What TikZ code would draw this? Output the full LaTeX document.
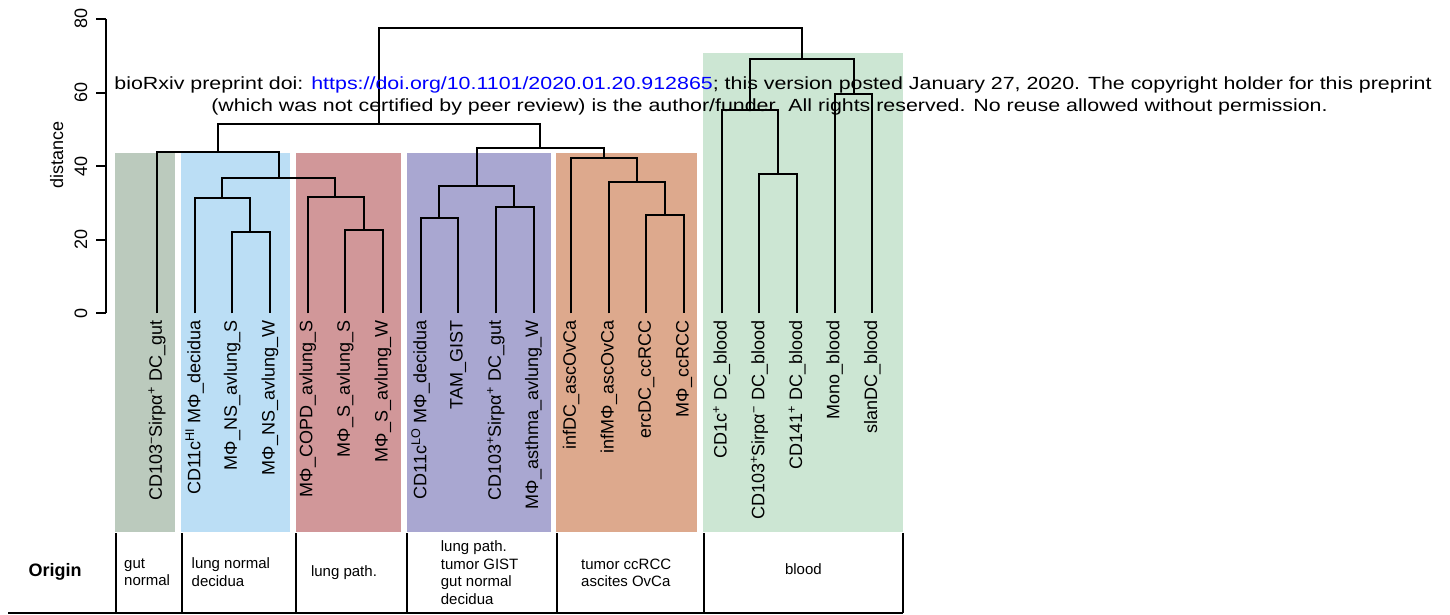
\documentclass[tikz,border=0pt]{standalone}
\usepackage{fontspec}
\setmainfont{Liberation Sans}
\newfontfamily\hdrfont[FakeStretch=1.215]{Liberation Sans}
\usepackage{xcolor}
\usepackage{tikz}
\usetikzlibrary{calc}

\definecolor{gutgrey}{HTML}{BBCABD}
\definecolor{lungblue}{HTML}{BBDEF5}
\definecolor{pathred}{HTML}{D19799}
\definecolor{mixpurple}{HTML}{A9A7D1}
\definecolor{tumorange}{HTML}{DDA98D}
\definecolor{bloodgreen}{HTML}{CCE6D3}
\definecolor{linkblue}{HTML}{0000FF}

\begin{document}
\begin{tikzpicture}[x=1pt,y=-1pt,
    dendro/.style={line width=2pt},
    axisline/.style={line width=2pt},
    tabline/.style={line width=2pt},
    leaf/.style={rotate=90, anchor=east, inner sep=0pt, font=\fontsize{18}{20}\selectfont},
    ticklab/.style={rotate=90, anchor=south, inner sep=0pt, font=\fontsize{18}{20}\selectfont},
    cell/.style={align=left, anchor=west, inner sep=0pt, font=\fontsize{15}{17.5}\selectfont},
    hdr/.style={anchor=base, inner sep=0pt, font=\hdrfont\fontsize{17.6}{20}\selectfont}]
    \useasboundingbox (0,0) rectangle (1450,614);

    % origin colour bands
    \fill[gutgrey] (115,153.3) rectangle (175,531.7);
    \fill[lungblue] (181,153.3) rectangle (290,531.7);
    \fill[pathred] (296,153.3) rectangle (401,531.7);
    \fill[mixpurple] (407,153.3) rectangle (550.7,531.7);
    \fill[tumorange] (556,153.3) rectangle (697.3,531.7);
    \fill[bloodgreen] (703.3,53.3) rectangle (902.7,531.7);

    % distance axis
    \draw[axisline] (106,313.3) -- (106,19);
    \foreach \v in {0,20,40,60,80} {
        \draw[axisline] (96,{313.3-3.679*\v}) -- (106,{313.3-3.679*\v});
        \node[ticklab] (tick\v) at (87.5,{313.3-3.679*\v}) {\v};
    }
    \node[ticklab] (ylab) at (63.5,155) {distance};

    % leaves
    \foreach \i/\lab in {1/{CD103\textsuperscript{−}Sirpα\textsuperscript{+} DC\_gut},
                         2/{CD11c\textsuperscript{HI} MΦ\_decidua},
                         3/{MΦ\_NS\_avlung\_S},
                         4/{MΦ\_NS\_avlung\_W},
                         5/{MΦ\_COPD\_avlung\_S},
                         6/{MΦ\_S\_avlung\_S},
                         7/{MΦ\_S\_avlung\_W},
                         8/{CD11c\textsuperscript{LO} MΦ\_decidua},
                         9/{TAM\_GIST},
                         10/{CD103\textsuperscript{+}Sirpα\textsuperscript{+} DC\_gut},
                         11/{MΦ\_asthma\_avlung\_W},
                         12/{infDC\_ascOvCa},
                         13/{infMΦ\_ascOvCa},
                         14/{ercDC\_ccRCC},
                         15/{MΦ\_ccRCC},
                         16/{CD1c\textsuperscript{+} DC\_blood},
                         17/{CD103\textsuperscript{+}Sirpα\textsuperscript{−} DC\_blood},
                         18/{CD141\textsuperscript{+} DC\_blood},
                         19/{Mono\_blood},
                         20/{slanDC\_blood}} {
        \coordinate (l\i) at ({157+37.65*(\i-1)},313.3);
        \node[leaf] (t\i) at ({157+37.65*(\i-1)},320.5) {\lab};
    }

    % merge points
    \coordinate (mA) at (250,232.3);
    \coordinate (mB) at (222,198.3);
    \coordinate (mC) at (363.5,230);
    \coordinate (mD) at (335.2,196.7);
    \coordinate (mE) at (278.6,177.7);
    \coordinate (mF) at (217.8,151.7);
    \coordinate (mG) at (438.8,218.3);
    \coordinate (mH) at (514.4,207.3);
    \coordinate (mI) at (476.6,185.7);
    \coordinate (mJ) at (665.1,215.3);
    \coordinate (mK) at (636.7,182.3);
    \coordinate (mL) at (603.7,158.3);
    \coordinate (mM) at (540.2,148);
    \coordinate (mN) at (379,123.7);
    \coordinate (mO) at (778,174);
    \coordinate (mP) at (749.7,110);
    \coordinate (mQ) at (853.6,94);
    \coordinate (mR) at (801.7,59.3);
    \coordinate (mS) at (590.3,27.7);
    \foreach \m/\a/\b in {mA/l3/l4, mB/l2/mA, mC/l6/l7, mD/l5/mC, mE/mB/mD,
                          mF/l1/mE, mG/l8/l9, mH/l10/l11, mI/mG/mH, mJ/l14/l15,
                          mK/l13/mJ, mL/l12/mK, mM/mI/mL, mN/mF/mM, mO/l17/l18,
                          mP/l16/mO, mQ/l19/l20, mR/mP/mQ, mS/mN/mR}
        \draw[dendro] (\a) |- (\m) -| (\b);

    % preprint stamp
    \node[hdr] (hdr1) at (773,89.3) {bioRxiv preprint doi: \textcolor{linkblue}{https://doi.org/10.1101/2020.01.20.912865}; this version posted January 27, 2020. The copyright holder for this preprint};
    \node[hdr] (hdr2) at (769.5,111.7) {(which was not certified by peer review) is the author/funder. All rights reserved. No reuse allowed without permission.};

    % origin table
    \foreach \x in {115.6,181.7,296,407.3,556.7,704,902.7}
        \draw[tabline] (\x,533) -- (\x,612.7);
    \draw[tabline] (8,612.7) -- (902.7,612.7);
    \node[font=\bfseries\fontsize{18}{20}\selectfont] (origin) at (55,572) {Origin};
    \node[cell] (gut) at (124,572) {gut\\normal};
    \node[cell] (lungn) at (191.5,572) {lung normal\\decidua};
    \node[cell, anchor=center] (lungp) at (344,573) {lung path.};
    \node[cell] (mixed) at (440.7,572.5) {lung path.\\tumor GIST\\gut normal\\decidua};
    \node[cell] (tumor) at (581,573) {tumor ccRCC\\ascites OvCa};
    \node[cell, anchor=center] (blood) at (803.4,569) {blood};
\end{tikzpicture}
\end{document}
